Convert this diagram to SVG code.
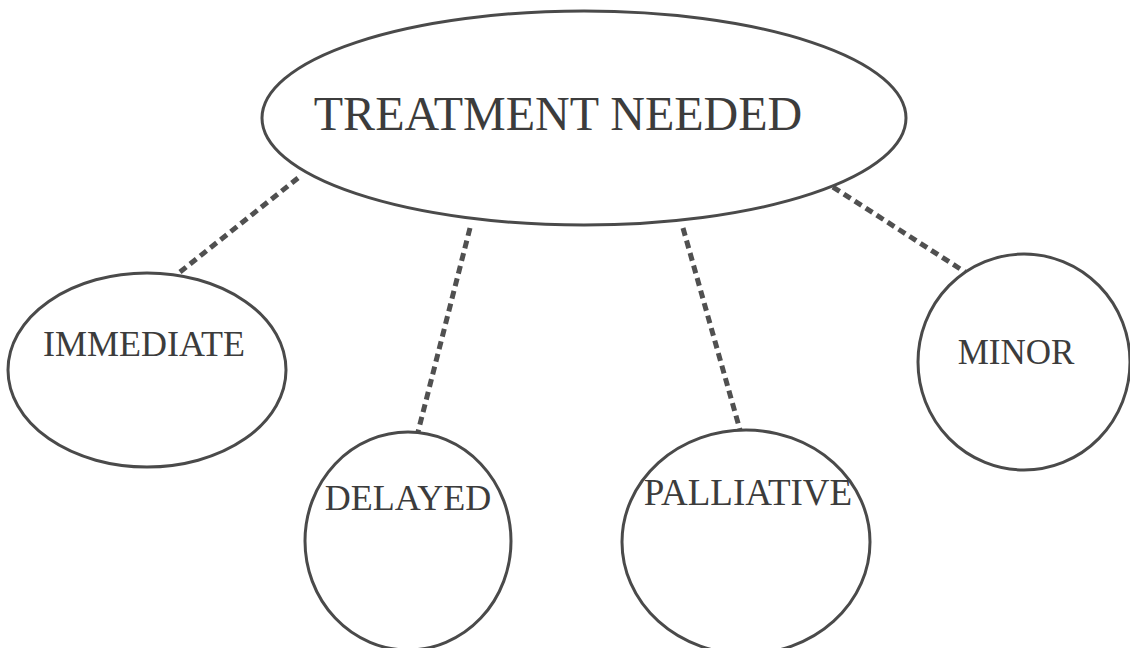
<svg xmlns="http://www.w3.org/2000/svg" width="1130" height="648" viewBox="0 0 1130 648">
  <style>
    .node { fill: #ffffff; stroke: #4a4a4a; stroke-width: 3; }
    .label { font-family: "Liberation Serif", "Times New Roman", serif; fill: #3c3c3c; }
    .link { stroke: #505050; stroke-width: 5; stroke-dasharray: 8 5; fill: none; }
  </style>
  <rect width="1130" height="648" fill="#ffffff"/>

  <!-- dashed links from the top category to each class -->
  <g id="connectors">
    <line class="link" x1="298" y1="178" x2="180" y2="272"/>
    <line class="link" x1="470" y1="228" x2="418" y2="432"/>
    <line class="link" x1="683" y1="228" x2="740" y2="430"/>
    <line class="link" x1="822" y1="180" x2="965" y2="272"/>
  </g>

  <g id="treatment-needed">
    <ellipse class="node" cx="584" cy="118" rx="322" ry="107"/>
    <text class="label" x="558" y="130" font-size="48" text-anchor="middle">TREATMENT NEEDED</text>
  </g>

  <g id="immediate">
    <ellipse class="node" cx="147" cy="370" rx="139" ry="97"/>
    <text class="label" x="144" y="356" font-size="36" text-anchor="middle">IMMEDIATE</text>
  </g>

  <g id="delayed">
    <ellipse class="node" cx="408" cy="541" rx="103" ry="109"/>
    <text class="label" x="408" y="510" font-size="36" text-anchor="middle">DELAYED</text>
  </g>

  <g id="palliative">
    <ellipse class="node" cx="746" cy="542" rx="124" ry="112"/>
    <text class="label" x="748" y="505" font-size="37" text-anchor="middle">PALLIATIVE</text>
  </g>

  <g id="minor">
    <ellipse class="node" cx="1024" cy="362" rx="106" ry="108"/>
    <text class="label" x="1016" y="364" font-size="35" text-anchor="middle">MINOR</text>
  </g>
</svg>
